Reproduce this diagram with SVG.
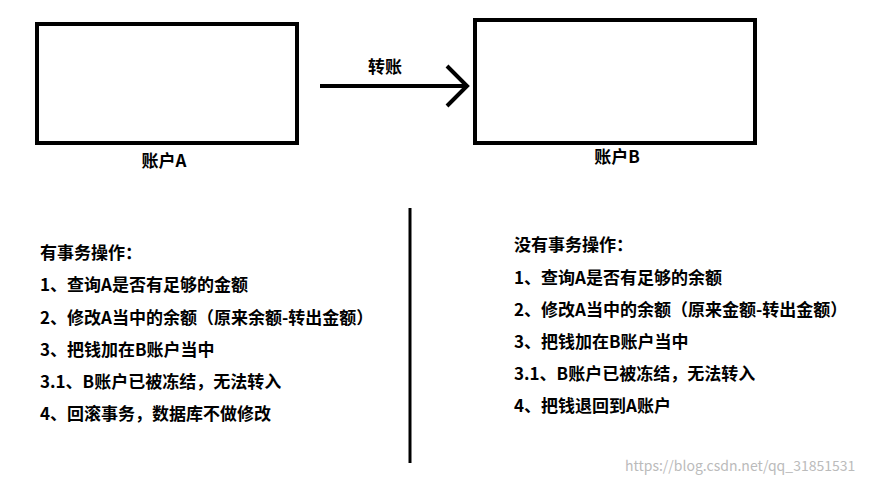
<svg xmlns="http://www.w3.org/2000/svg" width="878" height="482" viewBox="0 0 878 482">
<style>
.box{fill:none;stroke:#000;stroke-width:4}
text{font-family:"Noto Sans CJK SC","Liberation Sans",sans-serif;font-size:17px;font-weight:bold;fill:#000}
.wm{font-size:14px;font-weight:normal;fill:#bbb}
</style>
<rect width="878" height="482" fill="#fff"/>
<g id="nodeA"><rect class="box" x="37" y="24" width="260" height="119"/><text x="164" y="167" text-anchor="middle">账户A</text></g>
<g id="nodeB"><rect class="box" x="475" y="20" width="280" height="123"/><text x="617" y="163" text-anchor="middle">账户B</text></g>
<g id="connectors">
<line x1="320" y1="86" x2="466" y2="86" stroke="#000" stroke-width="4"/>
<polyline points="447,66 467,86 447,106" fill="none" stroke="#000" stroke-width="4"/>
<text x="385" y="73" text-anchor="middle">转账</text>
</g>
<line x1="410" y1="208" x2="410" y2="463" stroke="#000" stroke-width="3"/>
<g id="left">
<text x="40" y="259">有事务操作：</text>
<text x="40" y="291">1、查询A是否有足够的金额</text>
<text x="40" y="324">2、修改A当中的余额（原来余额-转出金额）</text>
<text x="40" y="356">3、把钱加在B账户当中</text>
<text x="40" y="388">3.1、B账户已被冻结，无法转入</text>
<text x="40" y="420">4、回滚事务，数据库不做修改</text>
</g>
<g id="right">
<text x="514" y="251">没有事务操作：</text>
<text x="514" y="284">1、查询A是否有足够的余额</text>
<text x="514" y="316">2、修改A当中的余额（原来金额-转出金额）</text>
<text x="514" y="348">3、把钱加在B账户当中</text>
<text x="514" y="380">3.1、B账户已被冻结，无法转入</text>
<text x="514" y="412">4、把钱退回到A账户</text>
</g>
<text class="wm" x="625" y="471">https://blog.csdn.net/qq_31851531</text>
</svg>
